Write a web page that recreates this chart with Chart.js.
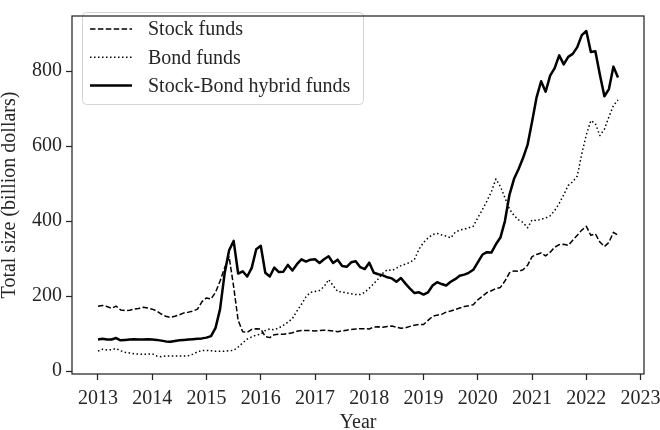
<!DOCTYPE html>
<html>
<head>
<meta charset="utf-8">
<script src="https://cdn.jsdelivr.net/npm/chart.js@4.4.0/dist/chart.umd.min.js"></script>
<style>
  html, body { margin: 0; padding: 0; background: #fff; }
</style>
</head>
<body>
<canvas id="fundSize" width="660" height="430"></canvas>
<script>
// monthly total size in billion dollars, Jan 2013 .. Aug 2022 (one row per year)
const startYear = 2013;
const stockFunds = [
  173, 175, 172, 167, 173, 163, 161, 162, 165, 167, 170, 168,
  165, 160, 152, 146, 143, 146, 150, 155, 157, 160, 165, 185,
  195, 192, 210, 240, 275, 305, 225, 135, 105, 103, 111, 113,
  112, 92, 89, 97, 98, 98, 100, 102, 106, 108, 108, 108,
  107, 108, 109, 108, 107, 105, 107, 109, 111, 112, 113, 113,
  112, 117, 118, 117, 119, 120, 117, 114, 115, 119, 122, 124,
  124, 135, 146, 149, 151, 157, 160, 164, 168, 172, 174, 177,
  190, 199, 209, 214, 220, 223, 240, 262, 267, 266, 270, 282,
  305, 311, 315, 307, 317, 330, 337, 338, 335, 349, 362, 376,
  386, 362, 366, 344, 332, 343, 370, 362
];
const bondFunds = [
  53, 58, 56, 57, 60, 54, 50, 48, 46, 45, 45, 45,
  46, 40, 38, 40, 40, 40, 40, 40, 41, 45, 51, 55,
  55, 54, 53, 53, 53, 54, 55, 64, 75, 85, 91, 96,
  98, 108, 112, 110, 115, 122, 130, 140, 160, 178, 198, 210,
  212, 215, 225, 244, 228, 212, 211, 208, 206, 204, 204, 210,
  221, 233, 246, 261, 270, 268, 274, 281, 285, 290, 298, 325,
  343, 355, 364, 367, 363, 360, 355, 370, 376, 378, 382, 386,
  409, 430, 453, 478, 512, 492, 462, 432, 415, 403, 396, 382,
  403, 401, 405, 408, 414, 428, 447, 470, 495, 505, 520, 580,
  630, 668, 660, 628, 645, 678, 708, 723
];
const hybridFunds = [
  84, 86, 84, 84, 88, 82, 83, 84, 85, 84, 84, 85,
  84, 83, 81, 79, 78, 80, 82, 83, 84, 85, 86, 87,
  89, 93, 115, 165, 260, 322, 347, 260, 266, 252, 275, 325,
  334, 262, 252, 276, 264, 265, 283, 268, 285, 298, 292, 297,
  298, 288, 298, 306, 288, 297, 280, 278, 290, 293, 277, 272,
  289, 262, 258, 255, 250, 247, 238, 248, 233, 220, 208, 210,
  204, 210, 228, 237, 232, 228, 238, 245, 254, 257, 262, 270,
  290, 310, 317, 316, 338, 356, 400, 470, 512, 538, 568, 603,
  665, 730, 773, 745, 788, 808, 842, 818, 838, 846, 864, 896,
  907, 851, 853, 790, 733, 752, 812, 783
];
const yearTicks = [2013, 2014, 2015, 2016, 2017, 2018, 2019, 2020, 2021, 2022, 2023];
const sizeTicks = [0, 200, 400, 600, 800];
const seriesNames = ['Stock funds', 'Bond funds', 'Stock-Bond hybrid funds'];

const serif = '"Liberation Serif", "Times New Roman", serif';
const ink = '#262626';

function toPoints(values) {
  return values.map((v, i) => ({ x: startYear + i / 12, y: v }));
}

// full box around the plot, like matplotlib spines
const frame = {
  id: 'frame',
  afterDraw(chart) {
    const { ctx, chartArea: a } = chart;
    ctx.save();
    ctx.strokeStyle = ink;
    ctx.lineWidth = 1.25;
    ctx.strokeRect(a.left, a.top, a.right - a.left, a.bottom - a.top);
    ctx.restore();
  }
};

// legend with a rounded frame in the upper left corner
const boxLegend = {
  id: 'boxLegend',
  afterDatasetsDraw(chart, args, opts) {
    const ctx = chart.ctx;
    ctx.save();
    ctx.beginPath();
    ctx.roundRect(opts.x, opts.y, opts.w, opts.h, 4);
    ctx.fillStyle = 'rgba(255,255,255,0.8)';
    ctx.fill();
    ctx.strokeStyle = '#d4d4d4';
    ctx.lineWidth = 1;
    ctx.stroke();
    chart.data.datasets.forEach((ds, i) => {
      const y = opts.y + opts.firstRow + i * opts.rowGap;
      ctx.beginPath();
      ctx.setLineDash(ds.borderDash || []);
      ctx.lineWidth = ds.borderWidth;
      ctx.strokeStyle = ds.borderColor;
      ctx.moveTo(opts.x + 7.5, y);
      ctx.lineTo(opts.x + 49.5, y);
      ctx.stroke();
      ctx.setLineDash([]);
      ctx.fillStyle = ink;
      ctx.font = '20px ' + serif;
      ctx.textBaseline = 'middle';
      ctx.textAlign = 'left';
      ctx.fillText(ds.label, opts.x + 65.5, y + 1);
    });
    ctx.restore();
  }
};

new Chart(document.getElementById('fundSize'), {
  type: 'line',
  data: {
    datasets: [
      {
        label: seriesNames[0],
        data: toPoints(stockFunds),
        borderColor: '#000',
        borderWidth: 1.5,
        borderDash: [5.5, 2.4]
      },
      {
        label: seriesNames[1],
        data: toPoints(bondFunds),
        borderColor: '#000',
        borderWidth: 1.5,
        borderDash: [1.5, 2.5]
      },
      {
        label: seriesNames[2],
        data: toPoints(hybridFunds),
        borderColor: '#000',
        borderWidth: 2.5
      }
    ]
  },
  options: {
    responsive: false,
    animation: false,
    devicePixelRatio: 1,
    layout: { padding: { top: 3, right: 16, left: 0, bottom: 0 } },
    elements: {
      point: { radius: 0 },
      line: { tension: 0, borderCapStyle: 'butt', borderJoinStyle: 'round' }
    },
    plugins: {
      legend: { display: false },
      tooltip: { enabled: false },
      boxLegend: { x: 82.5, y: 12.5, w: 281, h: 92, firstRow: 16.5, rowGap: 28.3 }
    },
    scales: {
      x: {
        type: 'linear',
        min: 2012.521,
        max: 2023.063,
        afterBuildTicks: (scale) => { scale.ticks = yearTicks.map(v => ({ value: v })); },
        afterFit: (scale) => { scale.height = 56; scale.paddingLeft = 0; scale.paddingRight = 0; },
        grid: { drawOnChartArea: false, drawTicks: true, tickLength: 6, tickWidth: 1.25, tickColor: ink },
        border: { display: false },
        ticks: {
          padding: 7,
          color: ink,
          font: { family: serif, size: 20 },
          maxRotation: 0,
          callback: (v) => String(v)
        },
        title: {
          display: true,
          text: 'Year',
          color: ink,
          font: { family: serif, size: 20, lineHeight: 0.75 },
          padding: { top: 0, bottom: 0 }
        }
      },
      y: {
        min: -8,
        max: 947,
        afterBuildTicks: (scale) => { scale.ticks = sizeTicks.map(v => ({ value: v })); },
        afterFit: (scale) => { scale.width = 72; },
        grid: { drawOnChartArea: false, drawTicks: true, tickLength: 6, tickWidth: 1.25, tickColor: ink },
        border: { display: false },
        ticks: {
          padding: 4,
          color: ink,
          font: { family: serif, size: 20 },
          callback: (v) => String(v)
        },
        title: {
          display: true,
          text: 'Total size (billion dollars)',
          color: ink,
          font: { family: serif, size: 20, lineHeight: 1 },
          padding: { top: 0, bottom: 0 }
        }
      }
    }
  },
  plugins: [frame, boxLegend]
});
</script>
</body>
</html>
